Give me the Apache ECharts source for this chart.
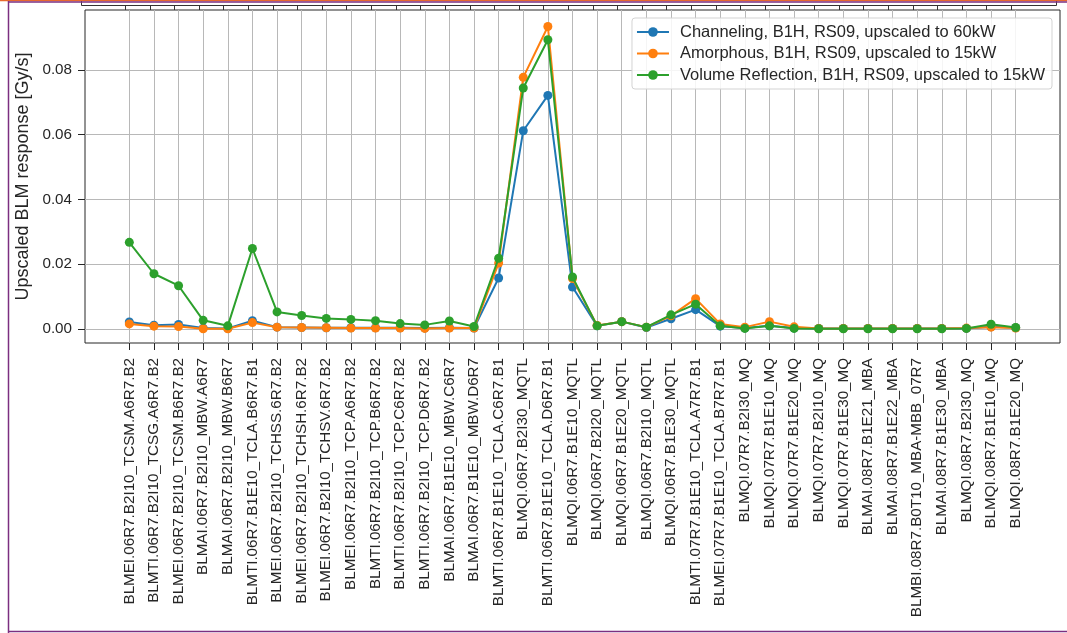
<!DOCTYPE html>
<html>
<head>
<meta charset="utf-8">
<title>Upscaled BLM response</title>
<script src="https://cdn.jsdelivr.net/npm/echarts@6/dist/echarts.min.js"></script>
<style>
  html, body { margin: 0; padding: 0; background: #ffffff; }
  #chart { width: 1067px; height: 633px; }
</style>
</head>
<body>
<div id="chart"></div>
<script>
// BLM monitors along the line, in order
const monitors = [
  'BLMEI.06R7.B2I10_TCSM.A6R7.B2',
  'BLMTI.06R7.B2I10_TCSG.A6R7.B2',
  'BLMEI.06R7.B2I10_TCSM.B6R7.B2',
  'BLMAI.06R7.B2I10_MBW.A6R7',
  'BLMAI.06R7.B2I10_MBW.B6R7',
  'BLMTI.06R7.B1E10_TCLA.B6R7.B1',
  'BLMEI.06R7.B2I10_TCHSS.6R7.B2',
  'BLMEI.06R7.B2I10_TCHSH.6R7.B2',
  'BLMEI.06R7.B2I10_TCHSV.6R7.B2',
  'BLMEI.06R7.B2I10_TCP.A6R7.B2',
  'BLMTI.06R7.B2I10_TCP.B6R7.B2',
  'BLMTI.06R7.B2I10_TCP.C6R7.B2',
  'BLMTI.06R7.B2I10_TCP.D6R7.B2',
  'BLMAI.06R7.B1E10_MBW.C6R7',
  'BLMAI.06R7.B1E10_MBW.D6R7',
  'BLMTI.06R7.B1E10_TCLA.C6R7.B1',
  'BLMQI.06R7.B2I30_MQTL',
  'BLMTI.06R7.B1E10_TCLA.D6R7.B1',
  'BLMQI.06R7.B1E10_MQTL',
  'BLMQI.06R7.B2I20_MQTL',
  'BLMQI.06R7.B1E20_MQTL',
  'BLMQI.06R7.B2I10_MQTL',
  'BLMQI.06R7.B1E30_MQTL',
  'BLMTI.07R7.B1E10_TCLA.A7R7.B1',
  'BLMEI.07R7.B1E10_TCLA.B7R7.B1',
  'BLMQI.07R7.B2I30_MQ',
  'BLMQI.07R7.B1E10_MQ',
  'BLMQI.07R7.B1E20_MQ',
  'BLMQI.07R7.B2I10_MQ',
  'BLMQI.07R7.B1E30_MQ',
  'BLMAI.08R7.B1E21_MBA',
  'BLMAI.08R7.B1E22_MBA',
  'BLMBI.08R7.B0T10_MBA-MBB_07R7',
  'BLMAI.08R7.B1E30_MBA',
  'BLMQI.08R7.B2I30_MQ',
  'BLMQI.08R7.B1E10_MQ',
  'BLMQI.08R7.B1E20_MQ'
];

// Upscaled responses [Gy/s]
const channeling = [
  0.0021, 0.0011, 0.0013, 0.0002, 0.0001, 0.0025, 0.0005, 0.0004, 0.0003, 0.0003,
  0.0003, 0.0003, 0.0002, 0.0003, 0.0002, 0.0157, 0.0612, 0.0721, 0.0129, 0.0009,
  0.0022, 0.0004, 0.0031, 0.0059, 0.0008, 0.0002, 0.0009, 0.0002, 0.0001, 0.0001,
  0.0001, 0.0001, 0.0001, 0.0001, 0.0001, 0.0006, 0.0003
];
const amorphous = [
  0.0015, 0.0008, 0.0007, 0.0000, 0.0000, 0.0019, 0.0005, 0.0004, 0.0003, 0.0002,
  0.0002, 0.0002, 0.0001, 0.0002, 0.0002, 0.0203, 0.0777, 0.0934, 0.0155, 0.0010,
  0.0022, 0.0005, 0.0040, 0.0093, 0.0015, 0.0005, 0.0022, 0.0006, 0.0001, 0.0001,
  0.0001, 0.0001, 0.0001, 0.0001, 0.0002, 0.0005, 0.0002
];
const volumeReflection = [
  0.0267, 0.0170, 0.0133, 0.0026, 0.0009, 0.0248, 0.0052, 0.0041, 0.0032, 0.0029,
  0.0025, 0.0016, 0.0012, 0.0024, 0.0007, 0.0218, 0.0744, 0.0893, 0.0160, 0.0009,
  0.0022, 0.0005, 0.0043, 0.0076, 0.0009, 0.0001, 0.0009, 0.0001, 0.0000, 0.0000,
  0.0000, 0.0000, 0.0000, 0.0000, 0.0001, 0.0014, 0.0004
];

const seriesNames = [
  'Channeling, B1H, RS09, upscaled to 60kW',
  'Amorphous, B1H, RS09, upscaled to 15kW',
  'Volume Reflection, B1H, RS09, upscaled to 15kW'
];

const yTicks = [0.00, 0.02, 0.04, 0.06, 0.08];

const FONT = '"Liberation Sans", Arial, sans-serif';
const TEXT = '#262626';
const colors = ['#1f77b4', '#ff7f0e', '#2ca02c'];
const xTicks = monitors.map((_, i) => i);

function toPoints(values) {
  return values.map((v, i) => [i, v]);
}

// frame of the panel above, whose bottom edge shows at the top
const topFrame = [
  { type: 'polyline', shape: { points: [[81.5, 0], [81.5, 5.5], [1056.5, 5.5], [1056.5, 0]] },
    style: { stroke: '#333', lineWidth: 1, fill: null } }
];
for (let k = 0; k < 37; k++) {
  const x = Math.round(125 + 24.61 * k) + 0.5;
  topFrame.push({ type: 'line', shape: { x1: x, y1: 5.5, x2: x, y2: 10 },
    style: { stroke: '#333', lineWidth: 1 } });
}

const chart = echarts.init(document.getElementById('chart'), null, { renderer: 'canvas' });
chart.setOption({
  animation: false,
  backgroundColor: '#ffffff',
  color: colors,
  textStyle: { fontFamily: FONT },
  grid: {
    left: 85, right: 7, top: 10, bottom: 290,
    show: true, borderColor: '#262626', borderWidth: 1, backgroundColor: 'transparent',
    containLabel: false
  },
  legend: {
    right: 15, top: 18,
    orient: 'vertical',
    itemWidth: 32, itemHeight: 12, itemGap: 4.5,
    padding: [5.5, 7, 5.5, 4],
    backgroundColor: 'rgba(255,255,255,0.85)',
    borderColor: '#d3d3d3', borderWidth: 1, borderRadius: 3,
    textStyle: { fontFamily: FONT, fontSize: 16.5, color: TEXT, padding: [0, 0, 0, 6] },
    data: seriesNames
  },
  xAxis: {
    type: 'value',
    min: -1.8, max: 37.8,
    axisLine: { show: false, onZero: false },
    axisTick: { show: true, length: 7, lineStyle: { color: '#262626' }, customValues: xTicks },
    splitLine: { show: true, lineStyle: { color: '#b8b8b8', width: 1 } },
    axisLabel: {
      customValues: xTicks,
      rotate: 90, margin: 15,
      fontFamily: FONT, fontSize: 15.2, color: TEXT,
      formatter: (v) => monitors[Math.round(v)]
    }
  },
  yAxis: {
    type: 'value',
    min: -0.0044, max: 0.0985,
    name: 'Upscaled BLM response [Gy/s]',
    nameLocation: 'middle', nameGap: 51,
    nameTextStyle: { fontFamily: FONT, fontSize: 18, color: TEXT },
    axisLine: { show: false, onZero: false },
    axisTick: { show: true, length: 7, lineStyle: { color: '#262626' }, customValues: yTicks },
    splitLine: { show: true, lineStyle: { color: '#b8b8b8', width: 1 } },
    axisLabel: {
      customValues: yTicks,
      margin: 13,
      fontFamily: FONT, fontSize: 15.2, color: TEXT,
      formatter: (v) => v.toFixed(2)
    }
  },
  series: [
    { name: seriesNames[0], type: 'line', data: toPoints(channeling),
      symbol: 'circle', symbolSize: 9, lineStyle: { width: 2 }, z: 2 },
    { name: seriesNames[1], type: 'line', data: toPoints(amorphous),
      symbol: 'circle', symbolSize: 9, lineStyle: { width: 2 }, z: 3 },
    { name: seriesNames[2], type: 'line', data: toPoints(volumeReflection),
      symbol: 'circle', symbolSize: 9, lineStyle: { width: 2 }, z: 4 }
  ],
  graphic: [
    { type: 'group', children: topFrame },
    // outer page border
    { type: 'line', shape: { x1: 0, y1: 0.5, x2: 1067, y2: 0.5 }, style: { stroke: '#e8692e', lineWidth: 1.5 } },
    { type: 'line', shape: { x1: 8, y1: 2, x2: 1067, y2: 2 }, style: { stroke: '#7b2f80', lineWidth: 1.5 } },
    { type: 'line', shape: { x1: 8.5, y1: 1, x2: 8.5, y2: 633 }, style: { stroke: '#7b2f80', lineWidth: 1.5 } },
    { type: 'line', shape: { x1: 8, y1: 631.5, x2: 1067, y2: 631.5 }, style: { stroke: '#7b2f80', lineWidth: 1.5 } }
  ]
});
</script>
</body>
</html>
